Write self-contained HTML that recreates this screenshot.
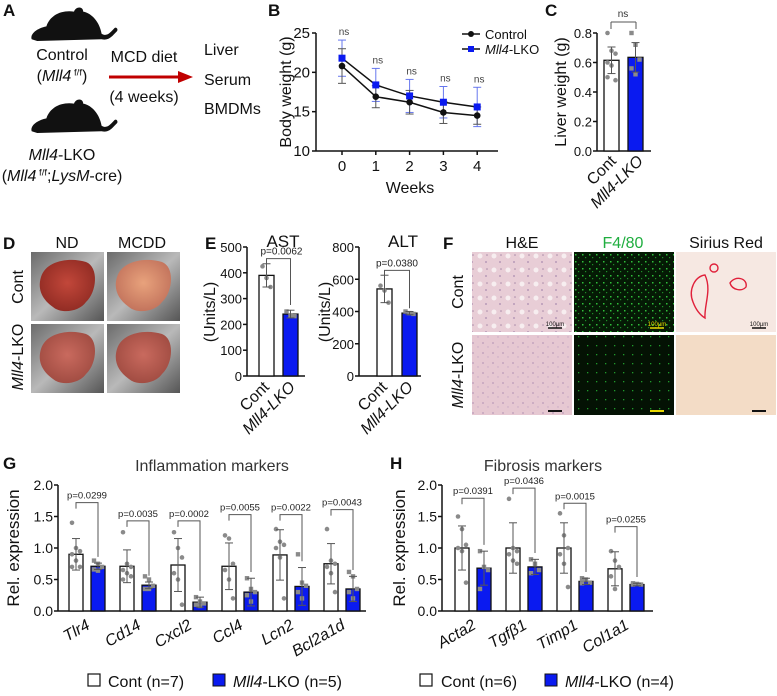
<!DOCTYPE html>
<html><head><meta charset="utf-8"><style>
html,body{margin:0;padding:0;background:#fff;width:777px;height:696px;overflow:hidden}
svg{display:block;font-family:"Liberation Sans",Arial,sans-serif}
</style></head><body>
<svg id="fig" width="777" height="696" viewBox="0 0 777 696" xmlns="http://www.w3.org/2000/svg">
<defs>
<symbol id="mouse" viewBox="0 0 100 40"><path d="M4 36 C2 30 10 24 20 22 C24 10 36 4 50 6 C52 0 60 0 60 6 C70 8 78 18 80 30 C86 34 90 28 94 24 C96 22 99 26 96 28 C92 32 88 38 80 36 L10 38 Z" fill="#111"/></symbol>
<radialGradient id="liv1" cx="50%" cy="45%" r="60%"><stop offset="0" stop-color="#c2473a"/><stop offset="1" stop-color="#8e2a22"/></radialGradient>
<radialGradient id="liv2" cx="50%" cy="45%" r="60%"><stop offset="0" stop-color="#e8a27c"/><stop offset="1" stop-color="#c0705a"/></radialGradient>
<radialGradient id="liv3" cx="50%" cy="45%" r="60%"><stop offset="0" stop-color="#c96a5e"/><stop offset="1" stop-color="#9e4a40"/></radialGradient>
<linearGradient id="tray" x1="0" y1="0" x2="1" y2="1"><stop offset="0" stop-color="#6b6b6b"/><stop offset="0.5" stop-color="#b9b9b9"/><stop offset="1" stop-color="#555"/></linearGradient>
<pattern id="he" width="14" height="14" patternUnits="userSpaceOnUse"><rect width="14" height="14" fill="#e8cdd6"/><circle cx="4" cy="4" r="2.5" fill="#f7eef0"/><circle cx="10" cy="10" r="1" fill="#b89ab8"/><circle cx="11" cy="3" r="0.8" fill="#a88aa8"/></pattern>
<pattern id="he2" width="10" height="10" patternUnits="userSpaceOnUse"><rect width="10" height="10" fill="#e6c8d2"/><circle cx="3" cy="3" r="0.9" fill="#b99ab9"/><circle cx="8" cy="7" r="0.7" fill="#c7a8c4"/></pattern>
<pattern id="f48" width="7" height="7" patternUnits="userSpaceOnUse"><rect width="7" height="7" fill="#051a05"/><rect x="1" y="2" width="1.5" height="1.5" fill="#2fbf3a"/><rect x="4" y="5" width="1.2" height="1.2" fill="#1f8f2a"/></pattern>
<pattern id="f482" width="9" height="9" patternUnits="userSpaceOnUse"><rect width="9" height="9" fill="#041204"/><rect x="2" y="3" width="1.3" height="1.3" fill="#1f9a2a"/></pattern>
</defs>
</svg>
<script>
const NS='http://www.w3.org/2000/svg';
const svg=document.getElementById('fig');
function el(tag,attrs,parent,txt){const e=document.createElementNS(NS,tag);for(const k in attrs)e.setAttribute(k,attrs[k]);if(txt!==undefined)e.textContent=txt;(parent||svg).appendChild(e);return e;}
function txt(x,y,s,size,opts,name){opts=opts||{};const a={x:x,y:y,'font-size':size,fill:opts.fill||'#111','text-anchor':opts.anchor||'start'};if(opts.weight)a['font-weight']=opts.weight;if(opts.style)a['font-style']=opts.style;if(opts.rot!==undefined)a.transform='rotate('+opts.rot+' '+x+' '+y+')';const t=el('text',a,opts.parent,s);


return t;}
function rich(x,y,parts,size,opts,name){opts=opts||{};const a={x:x,y:y,'font-size':size,fill:'#111','text-anchor':opts.anchor||'start'};if(opts.rot!==undefined)a.transform='rotate('+opts.rot+' '+x+' '+y+')';const t=el('text',a);


parts.forEach(p=>{const ts=el('tspan',{},t,p[0]);if(p[1]==='i')ts.setAttribute('font-style','italic');if(p[1]==='sup'){ts.setAttribute('font-size',size*0.6);ts.setAttribute('dy',-size*0.35);}if(p[1]==='down'){ts.setAttribute('dy',size*0.35);}});return t;}
function line(x1,y1,x2,y2,c,w,name){const l=el('line',{x1:x1,y1:y1,x2:x2,y2:y2,stroke:c||'#111','stroke-width':w||1.5});


return l;}

// ---------- Panel labels ----------
[['A',3,16],['B',268,16],['C',545,16],['D',3,249],['E',205,249],['F',443,249],['G',3,469],['H',390,469]].forEach(p=>{const t=txt(p[1],p[2],p[0],17,{weight:'bold'},'panel-label-'+p[0].toLowerCase());});

// ---------- Panel A ----------
let u=el('use',{href:'#mouse',x:28,y:6,width:92,height:37});


u=el('use',{href:'#mouse',x:28,y:98,width:92,height:37});


txt(62,60,'Control',16,{anchor:'middle'},'control-label');
rich(62,81,[['(',''],['Mll4','i'],[' f/f','sup'],[')','down']],16,{anchor:'middle'},'control-genotype');
rich(62,160,[['Mll4','i'],['-LKO','']],16,{anchor:'middle'},'lko-label');
rich(62,181,[['(',''],['Mll4','i'],[' f/f','sup'],[';','down'],['LysM','i'],['-cre)','']],16,{anchor:'middle'},'lko-genotype');
line(109,77,180,77,'#c00000',3,'arrow-shaft');
let ah=el('polygon',{points:'178,71 193,77 178,83',fill:'#c00000'});


txt(144,62,'MCD diet',16,{anchor:'middle'},'diet-label');
txt(144,102,'(4 weeks)',16,{anchor:'middle'},'duration-label');
txt(204,55,'Liver',16,{},'liver-label');
txt(204,85,'Serum',16,{},'serum-label');
txt(204,114,'BMDMs',16,{},'bmdms-label');

// ---------- Panel B: line chart ----------
const bWeeks=[0,1,2,3,4];
const bCtrl=[20.8,16.9,16.2,14.9,14.5];
const bCtrlSD=[2.2,1.4,1.5,1.4,1.1];
const bKO=[21.8,18.4,17.0,16.2,15.6];
const bKOSD=[2.3,2.1,2.1,2.0,2.5];
const bTicks=[10,15,20,25];
const bSig=['ns','ns','ns','ns','ns'];
(function(){
 const x0=316,x1=498,yb=151,yt=33;
 const X=w=>342+w*33.8, Y=v=>yb-(v-10)/15*(yb-yt);
 line(x0,yt,x0,yb,'#111',1.5,'b-y-axis');line(x0,yb,x1,yb,'#111',1.5,'b-x-axis');
 bTicks.forEach(t=>{line(x0-4,Y(t),x0,Y(t),'#111',1.5,'b-y-tick');txt(x0-6,Y(t)+5,String(t),15,{anchor:'end'},'b-y-tick-label');});
 bWeeks.forEach(w=>{line(X(w),yb,X(w),yb+4,'#111',1.5,'b-x-tick');txt(X(w),yb+20,String(w),15,{anchor:'middle'},'b-x-tick-label');});
 txt(410,193,'Weeks',16,{anchor:'middle'},'b-x-axis-title');
 txt(291,92,'Body weight (g)',16,{anchor:'middle',rot:-90},'b-y-axis-title');
 [[bKO,bKOSD,'#6677ee'],[bCtrl,bCtrlSD,'#555']].forEach(s=>{s[0].forEach((v,i)=>{const x=X(bWeeks[i]);line(x,Y(v+s[1][i]),x,Y(v-s[1][i]),s[2],1,'b-error-bar');line(x-4,Y(v+s[1][i]),x+4,Y(v+s[1][i]),s[2],1,'b-error-cap');line(x-4,Y(v-s[1][i]),x+4,Y(v-s[1][i]),s[2],1,'b-error-cap');});});
 const pc=bCtrl.map((v,i)=>X(bWeeks[i])+','+Y(v)).join(' ');
 const pk=bKO.map((v,i)=>X(bWeeks[i])+','+Y(v)).join(' ');
 let p=el('polyline',{points:pk,fill:'none',stroke:'#111','stroke-width':1.5});
 
 
 p=el('polyline',{points:pc,fill:'none',stroke:'#111','stroke-width':1.5});
 
 
 bCtrl.forEach((v,i)=>{const c=el('circle',{cx:X(bWeeks[i]),cy:Y(v),r:3.3,fill:'#111'});
  
  });
 bKO.forEach((v,i)=>{const r=el('rect',{x:X(bWeeks[i])-3.5,y:Y(v)-3.5,width:7,height:7,fill:'#0a1af0'});
  
  });
 bSig.forEach((s,i)=>{txt(X(bWeeks[i])+2,Y(bKO[i]+bKOSD[i])-5,s,10,{anchor:'middle',fill:'#444'},'b-sig-label');});
 line(462,34,480,34,'#111',1.5,'legend-control-line');let c=el('circle',{cx:471,cy:34,r:3,fill:'#111'});
 
 
 txt(485,39,'Control',13,{},'legend-control-label');
 line(462,49,480,49,'#111',1.5,'legend-lko-line');let r=el('rect',{x:468,y:46,width:6,height:6,fill:'#0a1af0'});
 
 
 rich(485,54,[['Mll4','i'],['-LKO','']],13,{},'legend-lko-label');
})();

// ---------- Generic bar chart ----------
function barChart(o){
 const Y=v=>o.yb-(v-o.min)/(o.max-o.min)*(o.yb-o.yt);
 line(o.x0,o.yt,o.x0,o.yb,'#111',1.5,o.id+'-y-axis');line(o.x0,o.yb,o.x1,o.yb,'#111',1.5,o.id+'-x-axis');
 o.ticks.forEach((t,i)=>{line(o.x0-4,Y(t),o.x0,Y(t),'#111',1.5,o.id+'-y-tick');txt(o.x0-5,Y(t)+5,o.tickLabels[i],o.tickSize||14,{anchor:'end'},o.id+'-y-tick-label');});
 o.groups.forEach((g,i)=>{
  const xc=o.gx(i), xk=xc+o.off, w=o.bw;
  [[xc,o.cont[i],o.contSD[i],'#fff',o.contDots?o.contDots[i]:[],'cont'],[xk,o.ko[i],o.koSD[i],'#0a1af0',o.koDots?o.koDots[i]:[],'lko']].forEach(b=>{
   const r=el('rect',{x:b[0],y:Y(b[1]),width:w,height:o.yb-Y(b[1]),fill:b[3],stroke:'#111','stroke-width':1.3});
   
   
   const cx=b[0]+w/2;
   b[4].forEach((d,j)=>{const dd=(b[5]==='cont')?el('circle',{cx:cx+((j%3)-1)*4,cy:Y(d),r:2.3,fill:'#8a8a8a'}):el('rect',{x:cx+((j%3)-1)*4-2.2,y:Y(d)-2.2,width:4.4,height:4.4,fill:'#8a8a8a'});
    
    });
   const ec='#555';
   line(cx,Y(b[1]+b[2]),cx,Y(b[1]-b[2]),ec,1,o.id+'-error-bar');
   line(cx-4,Y(b[1]+b[2]),cx+4,Y(b[1]+b[2]),ec,1,o.id+'-error-cap');
   line(cx-4,Y(b[1]-b[2]),cx+4,Y(b[1]-b[2]),ec,1,o.id+'-error-cap');
  });
  if(o.brackets){const by=Y(o.brackets[i]);const a=xc+w/2,b2=xk+w/2;
   const p=el('polyline',{points:a+','+(by+6)+' '+a+','+by+' '+b2+','+by+' '+b2+','+Y(o.bracketEnd?o.bracketEnd[i]:o.ko[i]+o.koSD[i]+0.05*(o.max-o.min)),fill:'none',stroke:'#555','stroke-width':1});
   
   
   txt((a+b2)/2-(o.pShift||0),by-4,o.pvals[i],o.pSize||10,{anchor:'middle',fill:'#222'},o.id+'-p-value');}
  if(o.xlabels!==false){const lx=(xc+xk+w)/2+o.lx, ly=o.yb+o.ly;
   txt(lx,ly,g,o.xSize||16,{anchor:'end',rot:o.rot,style:'italic'},o.id+'-x-label');}
 });
}

// ---------- Panel C ----------
const cGroups=['Liver'];
const cCont=[0.615];const cContSD=[0.09];const cKO=[0.635];const cKOSD=[0.1];
const cContDots=[[0.8,0.68,0.66,0.6,0.58,0.48,0.5]];const cKODots=[[0.8,0.72,0.62,0.56,0.52]];
barChart({id:'c',x0:597,x1:651,yt:33,yb:151,min:0,max:0.8,ticks:[0,0.2,0.4,0.6,0.8],tickLabels:['0.0','0.2','0.4','0.6','0.8'],tickSize:13,groups:cGroups,gx:()=>604,off:24,bw:15,cont:cCont,contSD:cContSD,ko:cKO,koSD:cKOSD,contDots:cContDots,koDots:cKODots,xlabels:false});
line(611,22,611,29,'#555',1,'c-bracket');line(611,22,636,22,'#555',1,'c-bracket');line(636,22,636,29,'#555',1,'c-bracket');
txt(623,17,'ns',10,{anchor:'middle',fill:'#333'},'c-sig-label');
txt(566,92,'Liver weight (g)',16,{anchor:'middle',rot:-90},'c-y-axis-title');
txt(617,162,'Cont',16,{anchor:'end',rot:-45},'c-x-label-cont');
rich(644,162,[['Mll4-LKO','i']],16,{anchor:'end',rot:-45},'c-x-label-lko');

// ---------- Panel D: photos ----------
txt(67,248,'ND',16,{anchor:'middle'},'d-nd-label');txt(142,248,'MCDD',16,{anchor:'middle'},'d-mcdd-label');
txt(23,287,'Cont',16,{anchor:'middle',rot:-90},'d-cont-label');
rich(23,357,[['Mll4','i'],['-LKO','']],16,{anchor:'middle',rot:-90},'d-lko-label');
[[31,252,'liv1'],[107,252,'liv2'],[31,324,'liv3'],[107,324,'liv3']].forEach((p,i)=>{
 const g=el('g',{});
 
 
 el('rect',{x:p[0],y:p[1],width:73,height:69,fill:'url(#tray)'},g);
 el('path',{d:`M${p[0]+10} ${p[1]+25} C${p[0]+15} ${p[1]+8} ${p[0]+40} ${p[1]+5} ${p[0]+55} ${p[1]+10} C${p[0]+68} ${p[1]+15} ${p[0]+66} ${p[1]+40} ${p[0]+55} ${p[1]+50} C${p[0]+48} ${p[1]+60} ${p[0]+30} ${p[1]+62} ${p[0]+22} ${p[1]+55} C${p[0]+12} ${p[1]+48} ${p[0]+6} ${p[1]+38} ${p[0]+10} ${p[1]+25} Z`,fill:'url(#'+p[2]+')'},g);
});

// ---------- Panel E ----------
const eGroups=['AST','ALT'];
const eCont=[390,540];const eContSD=[45,85];const eKO=[240,390];const eKOSD=[15,10];
barChart({id:'e-ast',x0:247,x1:305,yt:247,yb:376,min:0,max:500,ticks:[0,100,200,300,400,500],tickLabels:['0','100','200','300','400','500'],tickSize:13,groups:['AST'],gx:()=>259,off:24,bw:15,cont:[eCont[0]],contSD:[eContSD[0]],ko:[eKO[0]],koSD:[eKOSD[0]],contDots:[[425,380,345]],koDots:[[250,235,232]],brackets:[455],bracketEnd:[275],pvals:['p=0.0062'],xlabels:false,pShift:-3});
barChart({id:'e-alt',x0:359,x1:421,yt:247,yb:376,min:0,max:800,ticks:[0,200,400,600,800],tickLabels:['0','200','400','600','800'],tickSize:13,groups:['ALT'],gx:()=>377,off:25,bw:15,cont:[eCont[1]],contSD:[eContSD[1]],ko:[eKO[1]],koSD:[eKOSD[1]],contDots:[[560,530,455]],koDots:[[400,390,385]],brackets:[655],bracketEnd:[420],pvals:['p=0.0380'],xlabels:false});
txt(283,247,'AST',17,{anchor:'middle'},'e-ast-title');txt(403,247,'ALT',17,{anchor:'middle'},'e-alt-title');
txt(215,312,'(Units/L)',16,{anchor:'middle',rot:-90},'e-ast-y-axis-title');
txt(330,312,'(Units/L)',16,{anchor:'middle',rot:-90},'e-alt-y-axis-title');
txt(270,388,'Cont',16,{anchor:'end',rot:-45},'e-ast-x-cont');rich(296,388,[['Mll4-LKO','i']],16,{anchor:'end',rot:-45},'e-ast-x-lko');
txt(388,388,'Cont',16,{anchor:'end',rot:-45},'e-alt-x-cont');rich(414,388,[['Mll4-LKO','i']],16,{anchor:'end',rot:-45},'e-alt-x-lko');

// ---------- Panel F: histology ----------
txt(522,248,'H&E',16,{anchor:'middle'},'f-he-title');txt(623,248,'F4/80',16,{anchor:'middle',fill:'#1fae3f'},'f-f480-title');txt(726,248,'Sirius Red',16,{anchor:'middle'},'f-sirius-title');
txt(463,292,'Cont',16,{anchor:'middle',rot:-90},'f-cont-label');
rich(463,375,[['Mll4','i'],['-LKO','']],16,{anchor:'middle',rot:-90},'f-lko-label');
[[472,252,'url(#he)'],[574,252,'url(#f48)'],[676,252,'#f6e8e2'],[472,335,'url(#he2)'],[574,335,'url(#f482)'],[676,335,'#f3dcc6']].forEach((p,i)=>{
 const r=el('rect',{x:p[0],y:p[1],width:100,height:80,fill:p[2]});
 
 
});
let sr=el('path',{d:'M693 302 C688 290 695 276 705 275 C712 290 704 305 705 318 C700 315 696 310 693 302 Z M710 268 a4 4 0 1 0 8 0 a4 4 0 1 0 -8 0 M730 283 C735 275 748 278 746 287 C742 292 732 290 730 283 Z',fill:'none',stroke:'#e0203a','stroke-width':1.4});


[[555,328,'#111','100µm'],[657,328,'#e8d800','100µm'],[759,328,'#111','100µm']].forEach(s=>{line(s[0]-7,s[1],s[0]+7,s[1],s[2],1.5,'scale-bar');txt(s[0],s[1]-2,s[3],6,{anchor:'middle',fill:s[2]==='#111'?'#111':'#e8d800'},'scale-bar-label');});
[[555,411,'#111'],[657,411,'#e8d800'],[759,411,'#111']].forEach(s=>line(s[0]-7,s[1],s[0]+7,s[1],s[2],2,'scale-bar'));

// ---------- Panel G ----------
const gGroups=['Tlr4','Cd14','Cxcl2','Ccl4','Lcn2','Bcl2a1d'];
const gCont=[0.9,0.71,0.73,0.71,0.89,0.75];
const gContSD=[0.25,0.26,0.42,0.37,0.4,0.32];
const gKO=[0.71,0.41,0.14,0.3,0.39,0.35];
const gKOSD=[0.05,0.05,0.08,0.22,0.3,0.2];
const gBrackets=[1.72,1.43,1.43,1.53,1.53,1.61];
const gP=['p=0.0299','p=0.0035','p=0.0002','p=0.0055','p=0.0022','p=0.0043'];
const gContDots=[[1.4,1.0,0.95,0.9,0.8,0.7,0.7],[1.25,0.75,0.7,0.65,0.6,0.55,0.5],[1.25,1.0,0.85,0.6,0.5,0.1],[1.2,1.15,0.75,0.65,0.5,0.2],[1.3,1.1,1.05,1.0,0.85,0.2],[1.3,0.8,0.75,0.7,0.6,0.3]];
const gKODots=[[0.8,0.75,0.7,0.66,0.64],[0.55,0.5,0.4,0.35,0.35],[0.22,0.15,0.12,0.1,0.08],[0.52,0.35,0.3,0.25,0.15],[0.9,0.45,0.4,0.3,0.2],[0.62,0.55,0.35,0.3,0.2]];
barChart({id:'g',x0:58,x1:366,yt:485,yb:611,min:0,max:2,ticks:[0,0.5,1,1.5,2],tickLabels:['0.0','0.5','1.0','1.5','2.0'],groups:gGroups,gx:i=>69+i*51,off:22,bw:14,cont:gCont,contSD:gContSD,ko:gKO,koSD:gKOSD,contDots:gContDots,koDots:gKODots,brackets:gBrackets,pvals:gP,lx:4,ly:17,rot:-30,xSize:16,pSize:9.5});
txt(212,471,'Inflammation markers',16,{anchor:'middle',fill:'#333'},'g-title');
txt(19,548,'Rel. expression',17,{anchor:'middle',rot:-90},'g-y-axis-title');
let lg=el('rect',{x:88,y:674,width:12,height:12,fill:'#fff',stroke:'#111','stroke-width':1.2});


txt(108,687,'Cont (n=7)',16,{},'g-legend-cont-label');
lg=el('rect',{x:213,y:674,width:12,height:12,fill:'#0a1af0',stroke:'#111','stroke-width':1});


rich(233,687,[['Mll4','i'],['-LKO (n=5)','']],16,{},'g-legend-lko-label');

// ---------- Panel H ----------
const hGroups=['Acta2','Tgfβ1','Timp1','Col1a1'];
const hCont=[1.0,1.0,1.0,0.67];
const hContSD=[0.35,0.4,0.4,0.27];
const hKO=[0.68,0.7,0.47,0.42];
const hKOSD=[0.27,0.12,0.05,0.02];
const hBrackets=[1.79,1.95,1.71,1.34];
const hP=['p=0.0391','p=0.0436','p=0.0015','p=0.0255'];
const hContDots=[[1.5,1.3,1.05,1.0,0.95,0.45],[1.78,1.0,0.95,0.9,0.8,0.75],[1.55,1.2,1.0,0.9,0.75,0.38],[0.95,0.8,0.7,0.55,0.35]];
const hKODots=[[0.95,0.7,0.65,0.35],[0.82,0.75,0.65,0.6],[0.52,0.5,0.45,0.44],[0.44,0.43,0.42,0.42]];
barChart({id:'h',x0:442,x1:653,yt:485,yb:611,min:0,max:2,ticks:[0,0.5,1,1.5,2],tickLabels:['0.0','0.5','1.0','1.5','2.0'],groups:hGroups,gx:i=>455+i*51,off:22,bw:14,cont:hCont,contSD:hContSD,ko:hKO,koSD:hKOSD,contDots:hContDots,koDots:hKODots,brackets:hBrackets,pvals:hP,lx:4,ly:17,rot:-30,xSize:16,pSize:9.5});
txt(543,471,'Fibrosis markers',16,{anchor:'middle',fill:'#333'},'h-title');
txt(405,548,'Rel. expression',17,{anchor:'middle',rot:-90},'h-y-axis-title');
lg=el('rect',{x:420,y:674,width:12,height:12,fill:'#fff',stroke:'#111','stroke-width':1.2});


txt(441,687,'Cont (n=6)',16,{},'h-legend-cont-label');
lg=el('rect',{x:545,y:674,width:12,height:12,fill:'#0a1af0',stroke:'#111','stroke-width':1});


rich(565,687,[['Mll4','i'],['-LKO (n=4)','']],16,{},'h-legend-lko-label');
</script>
</body></html>
